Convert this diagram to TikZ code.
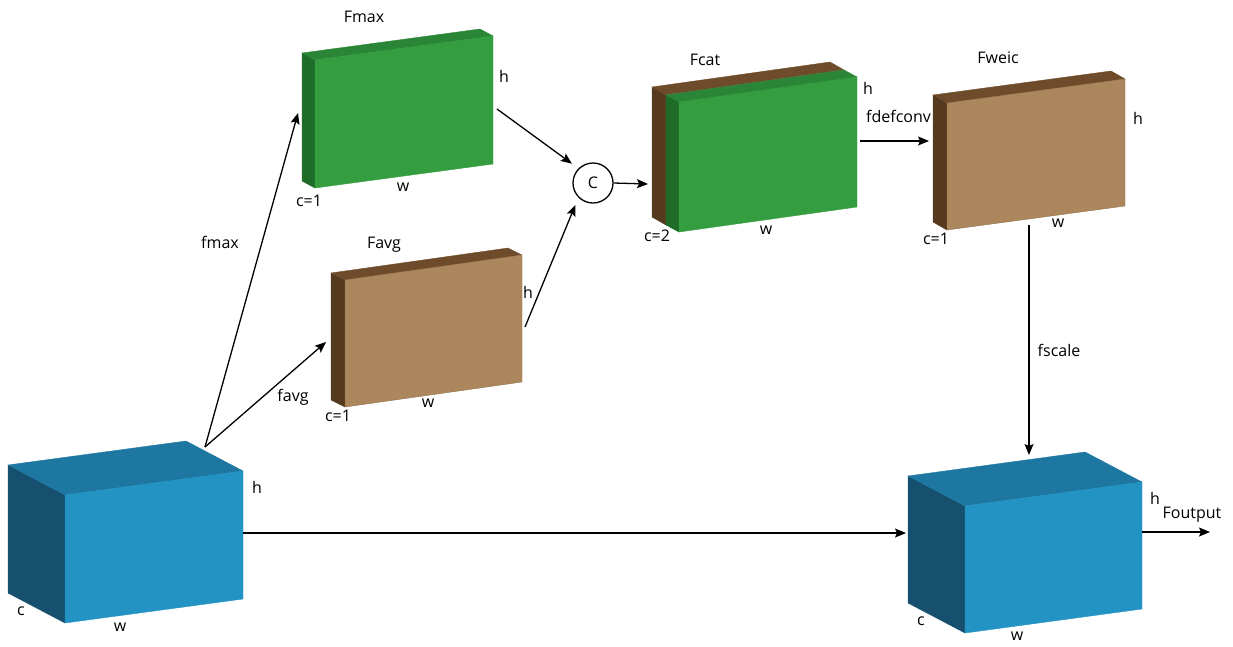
\documentclass[tikz,border=0pt]{standalone}
\usepackage{fontspec}
\setmainfont{Open Sans}
\usetikzlibrary{arrows.meta,calc}
\definecolor{bF}{HTML}{2393C4}
\definecolor{bT}{HTML}{1D77A0}
\definecolor{bS}{HTML}{16506E}
\definecolor{gF}{HTML}{339D40}
\definecolor{gT}{HTML}{2A8636}
\definecolor{gS}{HTML}{1F6B28}
\definecolor{nF}{HTML}{AC865C}
\definecolor{nT}{HTML}{6E4B2A}
\definecolor{nS}{HTML}{553A20}
\tikzset{
  bluefront/.style={fill=bF,draw=bF},
  bluetop/.style={fill=bT,draw=bT},
  blueside/.style={fill=bS,draw=bS},
  greenfront/.style={fill=gF,draw=gF},
  greentop/.style={fill=gT,draw=gT},
  greenside/.style={fill=gS,draw=gS},
  brownfront/.style={fill=nF,draw=nF!85!black},
  browntop/.style={fill=nT,draw=nT},
  brownside/.style={fill=nS,draw=nS},
  lbl/.style={inner sep=0pt,font=\fontsize{16}{19}\selectfont},
  arr/.style={line width=1.3pt,-{Stealth[length=11pt,width=9pt,inset=2pt]}},
}
% #1 name, #2 x, #3 y (top-left of front), #4 width, #5 rise, #6 height, #7 dx, #8 dy, #9 colour prefix
\def\cuboid#1#2#3#4#5#6#7#8#9{%
  \coordinate (#1-a) at (#2,#3);
  \coordinate (#1-b) at ({#2+#4},{#3-#5});
  \coordinate (#1-c) at ({#2+#4},{#3-#5+#6});
  \coordinate (#1-d) at (#2,{#3+#6});
  \path[#9side,line width=0.4pt] (#1-a) -- (#1-d) -- ++(#7,#8) -- ($(#1-a)+(#7,#8)$) -- cycle;
  \path[#9top,line width=0.4pt] (#1-a) -- (#1-b) -- ++(#7,#8) -- ($(#1-a)+(#7,#8)$) -- cycle;
  \path[#9front,line width=0.4pt] (#1-a) -- (#1-b) -- (#1-c) -- (#1-d) -- cycle;
}
\begin{document}
\begin{tikzpicture}[x=1pt,y=-1pt]
\useasboundingbox (0,0) rectangle (1233,646);
% label under Fweic box
\node[lbl,anchor=west] (lfdef) at (866,116) {fdefconv};
% blocks
\cuboid{inb}{65}{495}{178}{24}{128}{-57}{-30}{blue}
\cuboid{outb}{965}{506}{177}{24}{127}{-57}{-30}{blue}
\cuboid{fmax}{315}{60}{178}{24}{128}{-13}{-7}{green}
\cuboid{favg}{345}{280}{177}{25}{127}{-14}{-7}{brown}
\cuboid{fcatb}{666}{95}{178}{25}{130}{-14}{-8}{brown}
\cuboid{fcat}{679}{102}{178}{25}{130}{-13}{-7}{green}
\cuboid{fweic}{947}{103}{178}{24}{127}{-14}{-8}{brown}
% concat node
\node[draw,circle,line width=1.3pt,minimum size=40pt,inner sep=0pt,font=\fontsize{16}{19}\selectfont] (C) at (593,183) {C};
% connection points
\coordinate (inb-top) at (205,447);
\coordinate (fmax-in) at (298,113);
\coordinate (favg-in) at (326,342);
\coordinate (fmax-out) at (497,109);
\coordinate (favg-out) at (525,327);
\coordinate (fcat-in) at (648,184);
\coordinate (fcat-out) at (860,141);
\coordinate (fweic-in) at (929,141);
\coordinate (fweic-out) at (1029,225);
\coordinate (outb-top) at (1029,455);
\coordinate (inb-out) at (243,533);
\coordinate (outb-in) at (906,533);
\coordinate (outb-out) at (1142,532);
\coordinate (final) at (1210,532);
% connectors
\draw[arr] (inb-top) -- (fmax-in);
\draw[arr] (inb-top) -- (favg-in);
\draw[arr,shorten >=8pt] (fmax-out) -- (C.135);
\draw[arr,shorten >=8pt] (favg-out) -- (C.225);
\draw[arr] (C.east) -- (fcat-in);
\draw[arr] (fcat-out) -- (fweic-in);
\draw[arr] (fweic-out) -- (outb-top);
\draw[arr] (inb-out) -- (outb-in);
\draw[arr] (outb-out) -- (final);
% labels
\node[lbl] (tfmax) at (364,17) {Fmax};
\node[lbl] (hfmax) at (504,76) {h};
\node[lbl] (wfmax) at (403,187) {w};
\node[lbl] (cfmax) at (309,201) {c=1};
\node[lbl] (tfavg) at (384,245) {Favg};
\node[lbl] (hfavg) at (528,292) {h};
\node[lbl] (wfavg) at (428,403) {w};
\node[lbl] (cfavg) at (338,416) {c=1};
\node[lbl] (tfcat) at (705,60) {Fcat};
\node[lbl] (hfcat) at (868,88) {h};
\node[lbl] (wfcat) at (766,230) {w};
\node[lbl] (cfcat) at (657,236) {c=2};
\node[lbl] (tfweic) at (998,58) {Fweic};
\node[lbl] (hfweic) at (1138,118) {h};
\node[lbl] (wfweic) at (1058,223) {w};
\node[lbl] (cfweic) at (936,239) {c=1};
\node[lbl] (hinb) at (257,487) {h};
\node[lbl] (cinb) at (21,611) {c};
\node[lbl] (winb) at (120,627) {w};
\node[lbl] (houtb) at (1155,498) {h};
\node[lbl] (cout) at (921,621) {c};
\node[lbl] (woutb) at (1017,636) {w};
\node[lbl] (lfoutput) at (1192,515) {Foutput};
\node[lbl] (lfmax) at (220,242) {fmax};
\node[lbl] (lfavg) at (293,397) {favg};
\node[lbl] (lfscale) at (1059,350) {fscale};
\end{tikzpicture}
\end{document}
